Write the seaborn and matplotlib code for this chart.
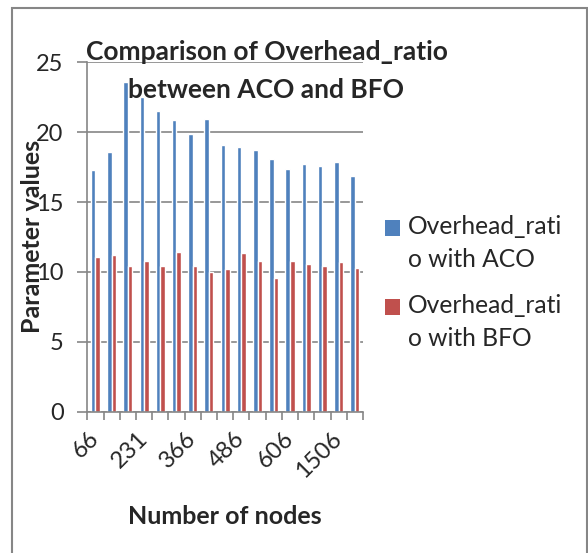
import numpy as np
import pandas as pd
import matplotlib
matplotlib.use("Agg")
import matplotlib.pyplot as plt
import seaborn as sns
from matplotlib.patches import Rectangle
from matplotlib.legend_handler import HandlerPatch

# ---- data ----
aco = [17.3, 18.6, 23.6, 22.5, 21.5, 20.85, 19.85, 20.95, 19.05, 18.95,
       18.75, 18.1, 17.35, 17.7, 17.6, 17.85, 16.9]
bfo = [11.05, 11.2, 10.4, 10.75, 10.45, 11.4, 10.4, 10.0, 10.2, 11.35,
       10.8, 9.55, 10.75, 10.55, 10.45, 10.7, 10.3]
label_positions = [0, 3, 6, 9, 12, 15]
label_nodes = ["66", "231", "366", "486", "606", "1506"]
series = ["Overhead_ratio with ACO", "Overhead_ratio with BFO"]
legend_labels = ["Overhead_rati\no with ACO", "Overhead_rati\no with BFO"]
colors = ["#4F81BD", "#C0504D"]
yticks = [0, 5, 10, 15, 20, 25]

sns.set_theme(style="white")
plt.rcParams["font.family"] = ["Lato", "DejaVu Sans"]

n = len(aco)
df = pd.DataFrame({
    "group": list(range(n)) * 2,
    "value": aco + bfo,
    "series": [series[0]] * n + [series[1]] * n,
})

W, H = 588, 553
fig = plt.figure(figsize=(W / 100, H / 100), dpi=100)
fig.patch.set_facecolor("white")
ax = fig.add_axes([87.3 / W, 1 - 411.7 / H, (363 - 87.3) / W, (411.7 - 62.3) / H])

sns.barplot(data=df, x="group", y="value", hue="series", palette=colors,
            width=0.56, saturation=1, ax=ax, legend=False)

grid_c = "#868686"
tick_fs = 17
ax.set_ylim(0, 25)
ax.set_xlim(-0.5, n - 0.5)
ax.set_yticks(yticks)
ax.set_yticklabels([str(v) for v in yticks], fontsize=tick_fs)
ax.yaxis.grid(True, color=grid_c, linewidth=1.2)
ax.set_axisbelow(True)
ax.tick_params(axis="y", length=7, width=1.2, color=grid_c, pad=10, left=True)

ax.set_xticks(np.arange(-0.5, n, 1.0))
ax.set_xticklabels([])
ax.tick_params(axis="x", which="major", length=6, width=1.2, color=grid_c, bottom=True)
ax.set_xticks(label_positions, label_nodes, minor=True)
ax.tick_params(axis="x", which="minor", length=0, pad=17, labelsize=tick_fs)
for t in ax.get_xticklabels(minor=True):
    t.set_rotation(45)
    t.set_ha("right")
    t.set_va("center")
    t.set_rotation_mode("anchor")

for s in ["top", "right"]:
    ax.spines[s].set_visible(False)
for s in ["left", "bottom"]:
    ax.spines[s].set_color(grid_c)
    ax.spines[s].set_linewidth(1.2)
ax.set_xlabel("")
ax.set_ylabel("")

# titles / axis labels
fig.text(266.5 / W, 1 - 52 / H, "Comparison of Overhead_ratio", ha="center", va="center",
         fontsize=19, fontweight="bold")
fig.text(266.5 / W, 1 - 90 / H, "between ACO and BFO", ha="center", va="center",
         fontsize=19, fontweight="bold")
fig.text(33 / W, 1 - 236.5 / H, "Parameter values", rotation=90, ha="center", va="center",
         fontsize=18, fontweight="bold")
fig.text(225 / W, 1 - 517 / H, "Number of nodes", ha="center", va="center",
         fontsize=18, fontweight="bold")

# legend (square aligned with first text line)
fs = 17.7
def top_square(legend, orig_handle, xdescent, ydescent, width, height, fontsize):
    return Rectangle((-xdescent, -ydescent + 11.5), width, height)

handles = [Rectangle((0, 0), 1, 1, facecolor=c, edgecolor="none") for c in colors]
leg = fig.legend(handles, legend_labels, loc="upper left",
                 bbox_to_anchor=(385 / W, 1 - 215 / H), frameon=False,
                 borderpad=0, borderaxespad=0, fontsize=fs,
                 handlelength=0.61, handleheight=0.61, handletextpad=0.33,
                 labelspacing=0.9,
                 handler_map={Rectangle: HandlerPatch(patch_func=top_square)})
for t in leg.get_texts():
    t.set_linespacing(1.55)

# outer border
fig.patches.append(Rectangle((12 / W, -0.05), (587 - 12) / W, 0.05 + 1 - 8 / H,
                             transform=fig.transFigure, fill=False,
                             edgecolor=grid_c, linewidth=1.5))

fig.savefig("out.png", dpi=100)
